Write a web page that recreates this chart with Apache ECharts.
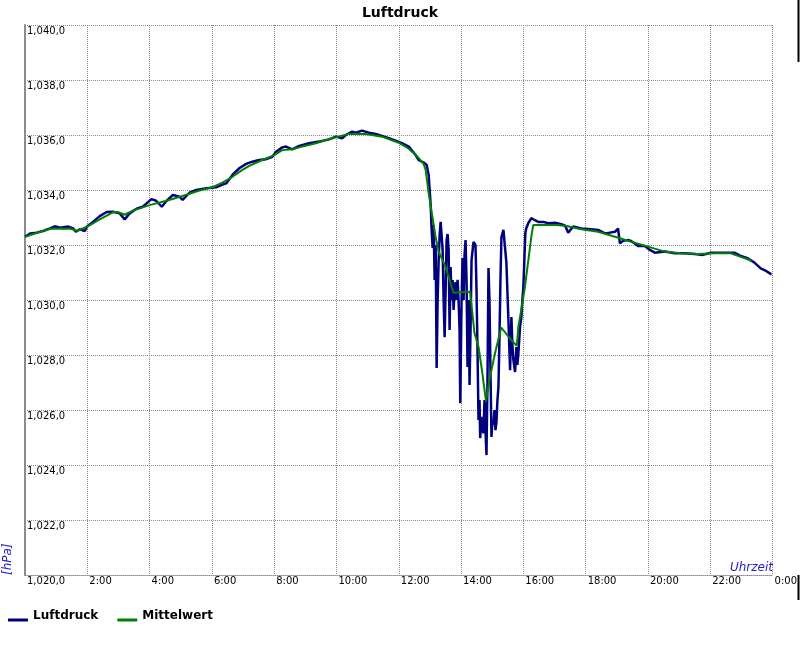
<!DOCTYPE html>
<html>
<head>
<meta charset="utf-8">
<script src="https://cdn.jsdelivr.net/npm/echarts@6/dist/echarts.min.js"></script>
<style>html,body{margin:0;padding:0;background:#fff;}#c{width:800px;height:650px;}</style>
</head>
<body>
<div id="c"></div>
<script>
// ---- data (hours of day / hPa) ----
const titleText = 'Luftdruck';
const seriesNames = ['Luftdruck', 'Mittelwert'];
const xTickHours = [0, 2, 4, 6, 8, 10, 12, 14, 16, 18, 20, 22, 24];

const luftTime = [
  0, 0.16, 0.37, 0.58, 0.8, 0.96, 1.12, 1.39, 1.55, 1.63, 1.76, 1.92, 1.99, 2.19, 2.4, 2.62, 2.82, 3.04, 3.2, 3.36,
  3.58, 3.78, 4.06, 4.21, 4.39, 4.54, 4.75, 4.96, 5.06, 5.28, 5.5, 5.82, 6.14, 6.3, 6.46, 6.66, 6.88, 7.1, 7.3, 7.52,
  7.74, 7.94, 8.06, 8.26, 8.38, 8.58, 8.8, 9.12, 9.44, 9.76, 9.98, 10.18, 10.3, 10.5, 10.62, 10.82, 11.04, 11.26, 11.46, 11.68,
  11.9, 12.1, 12.32, 12.54, 12.64, 12.8,
  12.896, 12.96, 13.024, 13.056, 13.088, 13.12, 13.152, 13.184, 13.216, 13.248, 13.28, 13.312, 13.344, 13.376, 13.408, 13.44,
  13.472, 13.504, 13.536, 13.568, 13.6, 13.632, 13.664, 13.696, 13.728, 13.76, 13.792, 13.824, 13.856, 13.888, 13.92, 13.952,
  13.974, 14.016, 14.048, 14.08, 14.112, 14.144, 14.176, 14.208, 14.24, 14.272, 14.304, 14.336, 14.4, 14.464, 14.496, 14.528,
  14.56, 14.592, 14.614, 14.656, 14.688, 14.72, 14.752, 14.784, 14.816, 14.848, 14.88, 14.912, 14.944, 14.976, 15.008, 15.04,
  15.072, 15.104, 15.136, 15.168, 15.2, 15.232, 15.264, 15.296, 15.36, 15.424, 15.456, 15.52, 15.574, 15.616, 15.648, 15.68,
  15.734, 15.776, 15.808, 15.84, 15.894, 15.936, 15.968, 16.0, 16.032, 16.064, 16.096, 16.16, 16.256,
  16.352, 16.48, 16.64, 16.8, 17.02, 17.22, 17.34, 17.44, 17.6, 17.86, 18.18, 18.4, 18.62, 18.78, 18.94, 19.04, 19.1, 19.2,
  19.36, 19.46, 19.68, 19.9, 20.06, 20.22, 20.54, 20.86, 21.18, 21.5, 21.76, 22.02, 22.34, 22.78, 22.98, 23.2, 23.42, 23.62,
  23.74, 23.94, 23.97
];
const luftValue = [
  1032.30, 1032.42, 1032.45, 1032.51, 1032.60, 1032.68, 1032.63, 1032.67, 1032.60, 1032.48, 1032.57, 1032.51, 1032.67, 1032.85, 1033.05, 1033.20, 1033.21, 1033.15, 1032.93, 1033.15,
  1033.32, 1033.39, 1033.67, 1033.61, 1033.39, 1033.60, 1033.82, 1033.76, 1033.64, 1033.90, 1034.00, 1034.06, 1034.10, 1034.18, 1034.24, 1034.55, 1034.79, 1034.95, 1035.03, 1035.09,
  1035.12, 1035.21, 1035.39, 1035.55, 1035.58, 1035.48, 1035.60, 1035.70, 1035.76, 1035.84, 1035.94, 1035.88, 1036.00, 1036.12, 1036.08, 1036.16, 1036.08, 1036.04, 1035.97, 1035.88,
  1035.79, 1035.70, 1035.58, 1035.27, 1035.09, 1035.00,
  1034.91, 1034.55, 1033.45, 1032.55, 1031.89, 1032.73, 1030.73, 1032.00, 1027.53, 1030.00, 1031.45, 1032.36, 1032.84, 1032.91, 1031.82, 1030.00,
  1028.65, 1030.36, 1032.18, 1032.40, 1031.82, 1028.91, 1031.20, 1030.00, 1030.73, 1029.64, 1030.36, 1030.65, 1030.00, 1030.73, 1030.00, 1028.91,
  1026.25, 1030.00, 1031.53, 1030.00, 1031.64, 1032.18, 1030.73, 1027.56, 1030.00, 1026.91, 1028.91, 1031.45, 1032.11, 1032.00, 1030.36, 1028.18,
  1025.64, 1026.36, 1024.98, 1025.75, 1025.27, 1025.16, 1026.36, 1025.27, 1024.36, 1027.09, 1031.16, 1030.00, 1027.45, 1025.02, 1025.64, 1025.45,
  1026.00, 1025.27, 1025.56, 1026.36, 1026.84, 1028.55, 1030.73, 1032.29, 1032.55, 1032.55, 1031.35, 1029.27, 1027.45, 1029.38, 1028.36, 1027.82,
  1027.38, 1028.29, 1027.64, 1028.07, 1029.02, 1029.38, 1030.00, 1030.47, 1031.45, 1032.44, 1032.62, 1032.80, 1032.98,
  1032.91, 1032.84, 1032.84, 1032.79, 1032.81, 1032.76, 1032.70, 1032.45, 1032.67, 1032.60, 1032.57, 1032.55, 1032.42, 1032.45, 1032.48, 1032.60, 1032.06, 1032.15,
  1032.18, 1032.15, 1031.96, 1031.96, 1031.82, 1031.72, 1031.76, 1031.70, 1031.70, 1031.67, 1031.64, 1031.72, 1031.72, 1031.72, 1031.60, 1031.52, 1031.36, 1031.15,
  1031.09, 1030.95, 1030.95
];

const mittelTime = [
  0, 0.8, 1.44, 1.66, 2.0, 2.4, 2.82, 2.98, 3.2, 3.46, 4.0, 4.54, 5.06, 5.6, 6.02, 6.34, 6.66, 6.98, 7.2, 7.62,
  8.0, 8.26, 8.58, 8.8, 9.34, 9.86, 10.4, 10.94, 11.46, 12.0, 12.32, 12.58, 12.8, 12.86, 12.96, 13.07, 13.18, 13.28, 13.5, 13.76,
  14.29, 14.43, 14.56, 14.67, 14.8, 14.93, 15.09, 15.29, 15.57, 15.79, 15.84, 15.95, 16.05, 16.16, 16.27, 16.32, 17.07, 17.39, 17.86, 18.4,
  18.94, 19.46, 20.0, 20.54, 21.06, 21.6, 22.14, 22.66, 22.98, 23.2, 23.33
];
const mittelValue = [
  1032.30, 1032.59, 1032.60, 1032.52, 1032.67, 1032.93, 1033.19, 1033.20, 1033.10, 1033.25, 1033.45, 1033.61, 1033.78, 1033.98, 1034.10, 1034.27, 1034.48, 1034.73, 1034.88, 1035.09,
  1035.27, 1035.45, 1035.48, 1035.55, 1035.70, 1035.88, 1036.04, 1036.04, 1035.94, 1035.72, 1035.50, 1035.24, 1034.94, 1034.75, 1033.88, 1033.09, 1032.30, 1031.76, 1031.21, 1030.26,
  1030.30, 1028.80, 1028.30, 1027.45, 1026.32, 1027.21, 1028.06, 1029.00, 1028.60, 1028.33, 1029.03, 1029.76, 1030.48, 1031.45, 1032.42, 1032.73, 1032.73, 1032.69, 1032.57, 1032.48,
  1032.30, 1032.12, 1031.94, 1031.76, 1031.70, 1031.67, 1031.70, 1031.70, 1031.57, 1031.48, 1031.42
];

const yMin = 1020, yMax = 1040, yStep = 2;

// ---- build ----
const pair = (t, v) => t.map((h, i) => [h, v[i]]);
function fmtY(v) {
  const s = v.toFixed(1);
  const parts = s.split('.');
  const i = parts[0];
  return i.slice(0, -3) + ',' + i.slice(-3) + ',' + parts[1];
}
function fmtX(v) {
  if (v === 0) return '';
  return (v % 24) + ':00';
}
const FONT = 'DejaVu Sans';
const gridLine = { color: '#8a8a8a', width: 1, type: [1, 1] };
// legend marker: thin bar at the bottom of the item box (tiny sliver at top keeps the box height)
const legendIcon = 'path://M0,0L20,0L20,0.01L0,0.01Z M0,8L20,8L20,11L0,11Z';

const chart = echarts.init(document.getElementById('c'), null, { renderer: 'canvas' });
chart.setOption({
  animation: false,
  backgroundColor: '#ffffff',
  title: {
    text: titleText, left: 'center', top: 1,
    textStyle: { fontFamily: FONT, fontSize: 14, fontWeight: 'bold', color: '#000' }
  },
  legend: {
    data: seriesNames, left: 8, top: 610, padding: 0, itemGap: 19,
    icon: legendIcon, itemWidth: 20, itemHeight: 11, symbolKeepAspect: false,
    textStyle: { fontFamily: FONT, fontSize: 12, fontWeight: 'bold', color: '#000' }
  },
  grid: { left: 25, right: 25, top: 25, bottom: 75, containLabel: false },
  xAxis: {
    type: 'value', min: xTickHours[0], max: xTickHours[xTickHours.length - 1], interval: 2,
    axisLine: { show: true, lineStyle: gridLine },
    axisTick: { show: false },
    splitLine: { show: true, lineStyle: gridLine },
    axisLabel: {
      formatter: fmtX, align: 'left', margin: 1, padding: [0, 0, 0, 2],
      fontFamily: FONT, fontSize: 10, color: '#000', showMinLabel: true, showMaxLabel: true
    }
  },
  yAxis: {
    type: 'value', min: yMin, max: yMax, interval: yStep,
    axisLine: { show: true, lineStyle: { color: '#8c8c8c', width: 2 } },
    axisTick: { show: false },
    splitLine: { show: true, lineStyle: gridLine },
    axisLabel: {
      inside: true, formatter: fmtY, align: 'left', verticalAlign: 'top', margin: 2, padding: [1, 0, 0, 0],
      fontFamily: FONT, fontSize: 10, color: '#000', showMinLabel: true, showMaxLabel: true
    }
  },
  graphic: [
    { type: 'text', x: 773, y: 574, style: { text: 'Uhrzeit', align: 'right', verticalAlign: 'bottom',
      font: 'italic 12px "DejaVu Sans"', fill: '#2323c8' } },
    { type: 'text', x: 8, y: 575, rotation: Math.PI / 2, style: { text: '[hPa]', align: 'left', verticalAlign: 'middle',
      font: 'italic 12px "DejaVu Sans"', fill: '#2323c8' } },
    { type: 'line', shape: { x1: 798.5, y1: 0, x2: 798.5, y2: 62 }, style: { stroke: '#000', lineWidth: 2 } },
    { type: 'line', shape: { x1: 798.5, y1: 575, x2: 798.5, y2: 600 }, style: { stroke: '#000', lineWidth: 2 } }
  ],
  series: [
    {
      name: seriesNames[0], type: 'line', data: pair(luftTime, luftValue),
      showSymbol: false, symbol: 'none', color: '#00007f',
      lineStyle: { color: '#00007f', width: 2.5 }
    },
    {
      name: seriesNames[1], type: 'line', data: pair(mittelTime, mittelValue),
      showSymbol: false, symbol: 'none', color: '#008000',
      lineStyle: { color: '#008000', width: 2 }
    }
  ]
});
</script>
</body>
</html>
